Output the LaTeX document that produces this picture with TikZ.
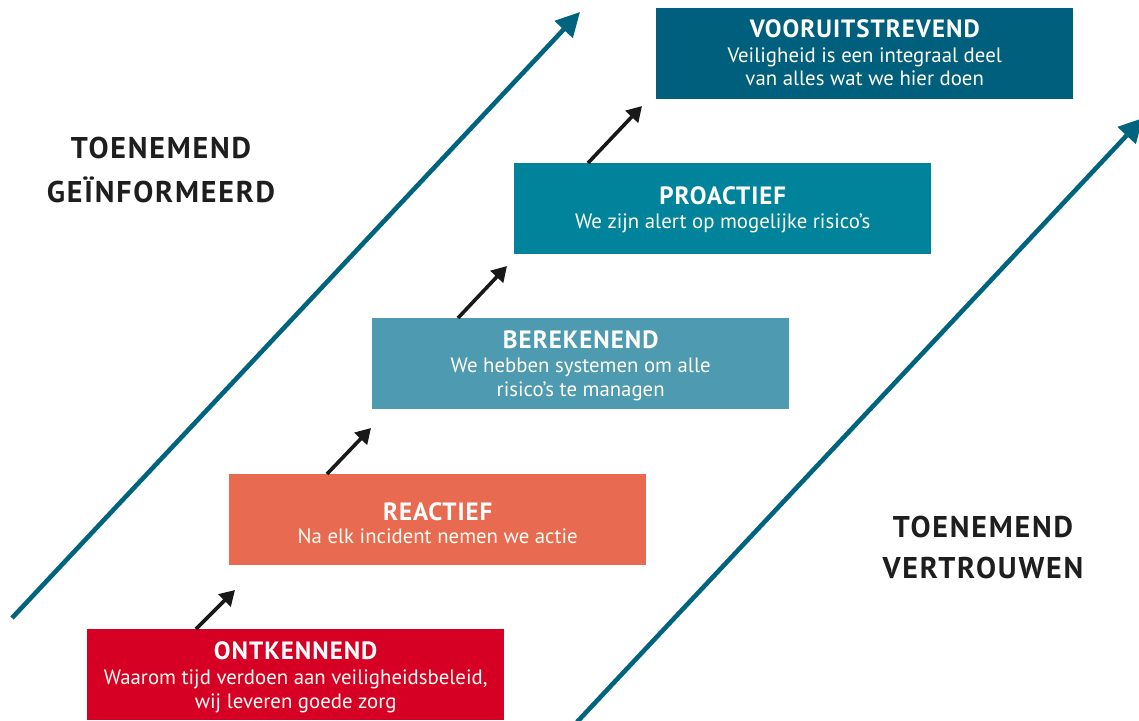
\documentclass[tikz,border=0pt]{standalone}
\usepackage{fontspec}
\setmainfont{PT Sans}
\usetikzlibrary{arrows.meta,calc}
\definecolor{cRed}{HTML}{D60024}
\definecolor{cOrange}{HTML}{E86A50}
\definecolor{cLight}{HTML}{4E9AB0}
\definecolor{cTeal}{HTML}{00839B}
\definecolor{cDark}{HTML}{005F7D}
\definecolor{cArrow}{HTML}{00647E}
\definecolor{cText}{HTML}{1E1E1E}
\tikzset{
  stagebox/.style={fill=#1, minimum width=417pt, minimum height=91pt, inner sep=0pt, anchor=north west},
  headtxt/.style={text=white, anchor=base, inner sep=0pt, font=\fontsize{25}{28}\selectfont\bfseries\addfontfeature{LetterSpace=4}},
  subtxt/.style={text=white!96!yellow, anchor=base, inner sep=0pt, font=\fontsize{20.8}{24}\selectfont},
  sidelabel/.style={text=cText, anchor=base, inner sep=0pt, font=\fontsize{30}{36}\selectfont\bfseries\addfontfeature{LetterSpace=6}},
  smallarrow/.style={draw=black!90, line width=3.6pt, -{Triangle[length=15pt,width=17pt]}},
  bigarrow/.style={draw=cArrow, line width=4.6pt, -{Triangle[length=24pt,width=24pt]}}
}
\begin{document}
\begin{tikzpicture}[x=1pt,y=-1pt]
\useasboundingbox (0,0) rectangle (1139,720);
\clip (0,0) rectangle (1139,720);
% big arrows
\coordinate (a1s) at (12,618);
\coordinate (a1e) at (580,12);
\coordinate (a2s) at (577,722);
\coordinate (a2e) at (1143,118);
\draw[bigarrow] (a1s) -- (a1e);
\draw[bigarrow] (a2s) -- (a2e);
% boxes
\node[stagebox=cRed] (ont) at (87,629) {};
\node[stagebox=cOrange] (rea) at (229,474) {};
\node[stagebox=cLight] (ber) at (372,318) {};
\node[stagebox=cTeal] (pro) at (514,163) {};
\node[stagebox=cDark] (voo) at (656,8) {};
% texts
\node[headtxt] (hont) at ($(ont.north)+(0,30)$) {ONTKENNEND};
\node[subtxt] (sont1) at ($(ont.north)+(0,55)$) {Waarom tijd verdoen aan veiligheidsbeleid,};
\node[subtxt] (sont2) at ($(ont.north)+(0,79)$) {wij leveren goede zorg};
\node[headtxt] (hrea) at ($(rea.north)+(0,46)$) {REACTIEF};
\node[subtxt] (srea) at ($(rea.north)+(0,69)$) {Na elk incident nemen we actie};
\node[headtxt] (hber) at ($(ber.north)+(0,30)$) {BEREKENEND};
\node[subtxt] (sber1) at ($(ber.north)+(0,54)$) {We hebben systemen om alle};
\node[subtxt] (sber2) at ($(ber.north)+(0,78)$) {risico’s te managen};
\node[headtxt] (hpro) at ($(pro.north)+(0,41)$) {PROACTIEF};
\node[subtxt] (spro) at ($(pro.north)+(0,65)$) {We zijn alert op mogelijke risico’s};
\node[headtxt] (hvoo) at ($(voo.north)+(0,29)$) {VOORUITSTREVEND};
\node[subtxt] (svoo1) at ($(voo.north)+(0,54)$) {Veiligheid is een integraal deel};
\node[subtxt] (svoo2) at ($(voo.north)+(0,77)$) {van alles wat we hier doen};
% small arrows
\coordinate (t1) at (235,590);
\coordinate (t2) at (371,428);
\coordinate (t3) at (507,266);
\coordinate (t4) at (642,106);
\draw[smallarrow] ($(ont.north west)+(109,0)$) -- (t1);
\draw[smallarrow] ($(rea.north west)+(98,0)$) -- (t2);
\draw[smallarrow] ($(ber.north west)+(86,0)$) -- (t3);
\draw[smallarrow] ($(pro.north west)+(74,0)$) -- (t4);
% side labels
\node[sidelabel] (linf1) at (161,158) {TOENEMEND};
\node[sidelabel] (linf2) at (161,202) {GEÏNFORMEERD};
\node[sidelabel] (rvert1) at (983,537) {TOENEMEND};
\node[sidelabel] (rvert2) at (983,578) {VERTROUWEN};
\end{tikzpicture}
\end{document}
